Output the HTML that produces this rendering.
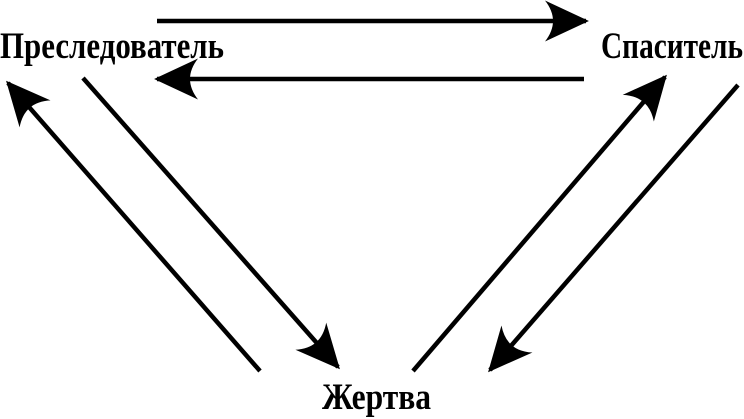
<!DOCTYPE html>
<html><head><meta charset="utf-8"><style>
html,body{margin:0;padding:0;background:#fff;width:744px;height:419px;overflow:hidden}
svg{display:block}
text{font-family:"Liberation Serif",serif;font-weight:bold;font-size:37px;fill:#000}
</style></head><body>
<svg width="744" height="419" viewBox="0 0 744 419">
<defs>
<marker id="a" markerUnits="userSpaceOnUse" markerWidth="44" markerHeight="44" refX="28" refY="14" orient="auto" viewBox="0 0 30 28">
<path d="M30,14 L0,0 Q11,14 0,28 Z" fill="#000"/>
</marker>
</defs>
<g stroke="#000" stroke-width="4.5" fill="none">
<line x1="157" y1="21" x2="586" y2="21" marker-end="url(#a)"/>
<line x1="584" y1="79" x2="157" y2="79" marker-end="url(#a)"/>
<line x1="260" y1="371" x2="8" y2="83" marker-end="url(#a)"/>
<line x1="83" y1="78" x2="338" y2="367" marker-end="url(#a)"/>
<line x1="413" y1="371" x2="665" y2="77" marker-end="url(#a)"/>
<line x1="738" y1="85" x2="490" y2="370" marker-end="url(#a)"/>
</g>
<text x="0" y="58" textLength="224" lengthAdjust="spacingAndGlyphs">Преследователь</text>
<text x="601" y="58" textLength="142" lengthAdjust="spacingAndGlyphs">Спаситель</text>
<text x="322" y="409" textLength="109" lengthAdjust="spacingAndGlyphs">Жертва</text>
</svg>
</body></html>
